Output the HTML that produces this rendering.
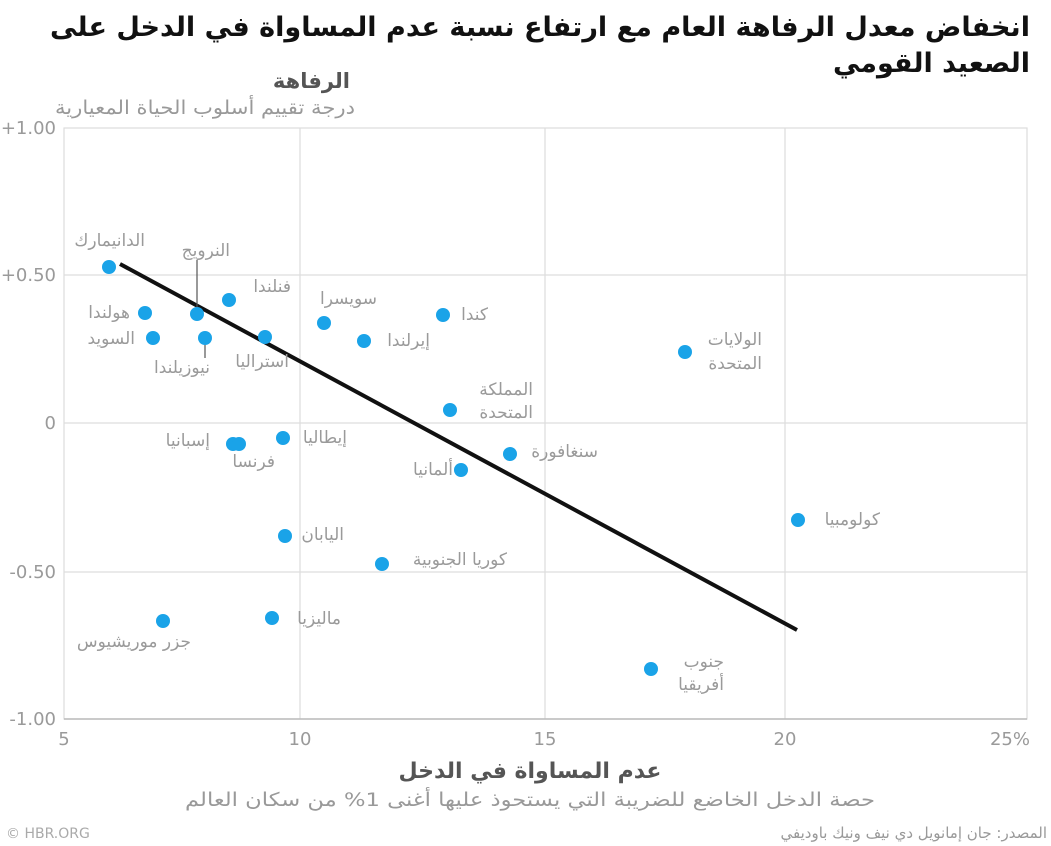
<!DOCTYPE html>
<html><head><meta charset="utf-8"><style>
body{margin:0;background:#fff;width:1051px;height:846px;overflow:hidden}
svg{display:block}
text{font-family:"DejaVu Sans","Liberation Sans",sans-serif}
.l{fill:#9a9a9a;font-size:17px}
.t{fill:#9a9a9a;font-size:18px;font-family:"Liberation Sans",sans-serif}
</style></head><body>
<svg width="1051" height="846" xmlns="http://www.w3.org/2000/svg">
<text x="1030" y="36" text-anchor="end" font-size="27" font-weight="bold" fill="#111" textLength="980" lengthAdjust="spacingAndGlyphs">انخفاض معدل الرفاهة العام مع ارتفاع نسبة عدم المساواة في الدخل على</text>
<text x="1030" y="72" text-anchor="end" font-size="27" font-weight="bold" fill="#111">الصعيد القومي</text>
<text x="350" y="88" text-anchor="end" font-size="21" font-weight="bold" fill="#555">الرفاهة</text>
<text x="355" y="114" text-anchor="end" font-size="19" fill="#999" textLength="300" lengthAdjust="spacingAndGlyphs">درجة تقييم أسلوب الحياة المعيارية</text>
<g stroke="#ddd" stroke-width="1.2" fill="none">
<rect x="64" y="128" width="963" height="591"/>
<line x1="300" y1="128" x2="300" y2="719"/><line x1="545" y1="128" x2="545" y2="719"/><line x1="785" y1="128" x2="785" y2="719"/>
<line x1="64" y1="275" x2="1027" y2="275"/><line x1="64" y1="423" x2="1027" y2="423"/><line x1="64" y1="572" x2="1027" y2="572"/>
</g>
<line x1="64" y1="719" x2="1027" y2="719" stroke="#bbb" stroke-width="1.5"/>
<g class="t" text-anchor="end">
<text x="56" y="134">+1.00</text><text x="56" y="281">+0.50</text><text x="56" y="429">0</text><text x="56" y="578">-0.50</text><text x="56" y="725">-1.00</text>
</g>
<g class="t" text-anchor="middle">
<text x="64" y="745">5</text><text x="300" y="745">10</text><text x="545" y="745">15</text><text x="785" y="745">20</text><text x="1030" y="745" text-anchor="end">25%</text>
</g>
<line x1="120" y1="264" x2="797" y2="630" stroke="#111" stroke-width="4"/>
<g stroke="#555" stroke-width="1.2"><line x1="197" y1="260" x2="197" y2="310"/><line x1="205" y1="343" x2="205" y2="358"/></g>
<g fill="#1aa3e8">
<circle cx="109" cy="267" r="7"/><circle cx="145" cy="313" r="7"/><circle cx="153" cy="338" r="7"/><circle cx="197" cy="314" r="7"/><circle cx="205" cy="338" r="7"/><circle cx="229" cy="300" r="7"/><circle cx="265" cy="337" r="7"/><circle cx="324" cy="323" r="7"/><circle cx="364" cy="341" r="7"/><circle cx="443" cy="315" r="7"/><circle cx="685" cy="352" r="7"/><circle cx="450" cy="410" r="7"/><circle cx="233" cy="444" r="7"/><circle cx="239" cy="444" r="7"/><circle cx="283" cy="438" r="7"/><circle cx="510" cy="454" r="7"/><circle cx="461" cy="470" r="7"/><circle cx="285" cy="536" r="7"/><circle cx="382" cy="564" r="7"/><circle cx="798" cy="520" r="7"/><circle cx="272" cy="618" r="7"/><circle cx="163" cy="621" r="7"/><circle cx="651" cy="669" r="7"/>
</g>
<g class="l" text-anchor="end">
<text x="145" y="246">الدانيمارك</text>
<text x="230" y="256">النرويج</text>
<text x="130" y="318">هولندا</text>
<text x="135" y="344">السويد</text>
<text x="210" y="373">نيوزيلندا</text>
<text x="291" y="292">فنلندا</text>
<text x="289" y="367">استراليا</text>
<text x="377" y="304">سويسرا</text>
<text x="430" y="346">إيرلندا</text>
<text x="488" y="320">كندا</text>
<text x="762" y="345">الولايات</text><text x="762" y="369">المتحدة</text>
<text x="533" y="395">المملكة</text><text x="533" y="418">المتحدة</text>
<text x="210" y="446">إسبانيا</text>
<text x="275" y="467">فرنسا</text>
<text x="347" y="443">إيطاليا</text>
<text x="598" y="457">سنغافورة</text>
<text x="453" y="475">ألمانيا</text>
<text x="344" y="540">اليابان</text>
<text x="507" y="565">كوريا الجنوبية</text>
<text x="880" y="525">كولومبيا</text>
<text x="341" y="624">ماليزيا</text>
<text x="191" y="647">جزر موريشيوس</text>
<text x="724" y="667">جنوب</text><text x="724" y="690">أفريقيا</text>
</g>
<text x="530" y="778" text-anchor="middle" font-size="22" font-weight="bold" fill="#555">عدم المساواة في الدخل</text>
<text x="530" y="806" text-anchor="middle" font-size="19" fill="#999" textLength="690" lengthAdjust="spacingAndGlyphs">حصة الدخل الخاضع للضريبة التي يستحوذ عليها أغنى 1% من سكان العالم</text>
<text x="6" y="838" font-size="14" fill="#aaa" font-family="Liberation Sans,sans-serif">© HBR.ORG</text>
<text x="1047" y="838" text-anchor="end" font-size="15" fill="#999">المصدر: جان إمانويل دي نيف ونيك باوديفي</text>
</svg>
</body></html>
